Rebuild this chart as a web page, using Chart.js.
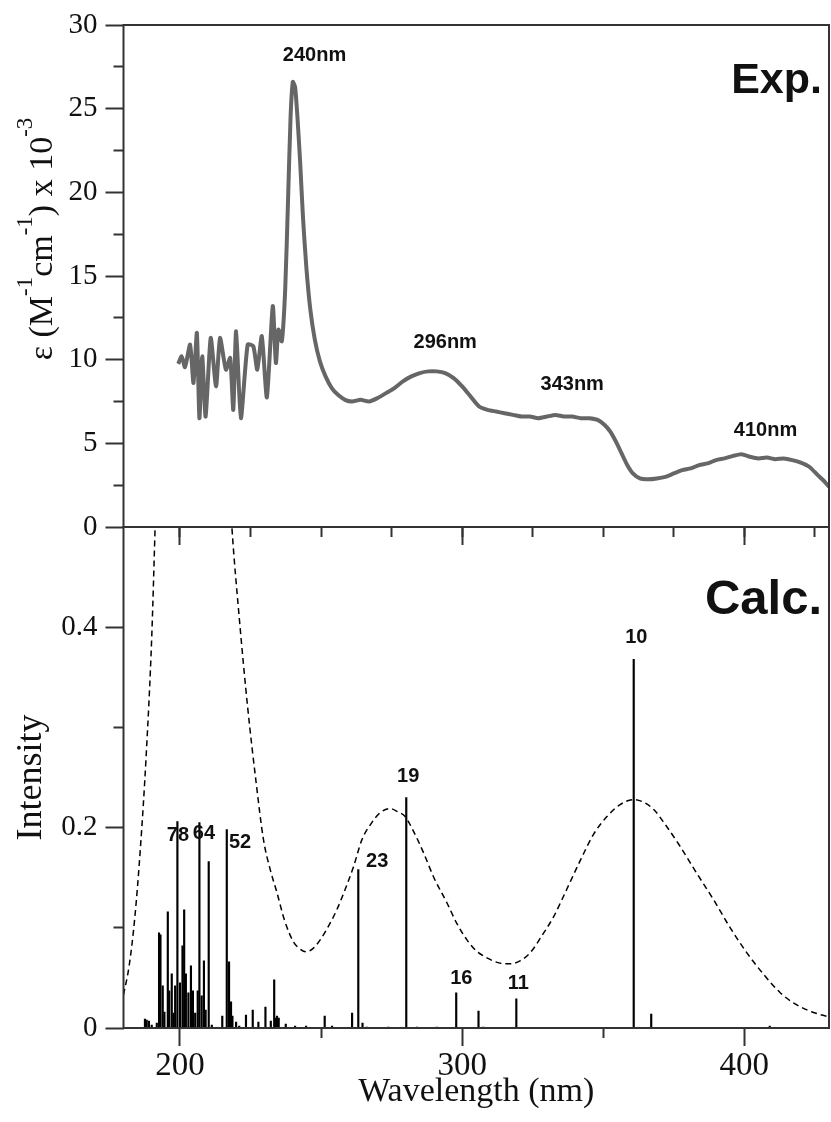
<!DOCTYPE html>
<html lang="en">
<head>
  <meta charset="UTF-8" />
  <title>Exp. / Calc. absorption spectrum</title>
  <script src="https://cdn.jsdelivr.net/npm/chart.js"></script>
  <style>
    body { margin: 0; background: #ffffff; }
    #wrap { position: relative; width: 831px; height: 1122px; }
    #wrap canvas { position: absolute; left: 0; }
    #topChart { top: 0; z-index: 2; }
    #bottomChart { top: 520px; z-index: 1; }
  </style>
</head>
<body>
<div id="wrap">
  <canvas id="topChart" width="831" height="560"></canvas>
  <canvas id="bottomChart" width="831" height="602"></canvas>
</div>

<script>
  const serif = '"Liberation Serif", "Times New Roman", serif';
  const sans = '"Liberation Sans", Arial, sans-serif';

  // experimental spectrum: wavelength (nm) and epsilon x 10^-3
  const expWavelength = [
    199.4, 200.6, 201.8, 203.6, 204.8, 206.0, 206.9, 207.9, 209.1, 210.9,
    212.8, 214.2, 216.3, 217.8, 218.9, 219.9, 221.6, 224.0, 226.0, 227.4,
    229.0, 230.8, 232.9, 234.0, 234.9, 236.1, 237.3, 238.3, 239.2, 240.0,
    240.8, 241.6, 242.6, 243.6, 244.8, 246.2, 247.8, 249.6, 251.6, 253.8,
    256.0, 258.5, 261.0, 264.0, 267.0, 270.0, 273.0, 276.0, 279.0, 282.0,
    285.0, 288.0, 291.0, 294.0, 297.0, 300.0, 303.0, 306.0, 309.0, 312.0,
    315.0, 318.0, 321.0, 324.0, 327.0, 330.0, 333.0, 336.0, 339.0, 342.0,
    345.0, 348.0, 350.5, 352.5, 354.5, 356.5, 358.5, 360.5, 363.0, 366.0,
    369.0, 372.0, 375.0, 378.0, 381.0, 384.0, 387.0, 390.0, 393.0, 396.0,
    399.0, 402.0, 405.0, 408.0, 411.0, 414.0, 417.0, 420.0, 423.0, 426.0,
    428.5, 430.0
  ];
  const expEpsilon = [
    9.75, 10.2, 9.55, 10.9, 8.6, 11.6, 6.5, 10.2, 6.6, 11.3,
    8.4, 11.3, 9.4, 10.1, 7.0, 11.7, 6.5, 10.9, 10.8, 9.4,
    11.4, 7.75, 13.2, 9.8, 11.8, 11.1, 14.2, 19.5, 24.5, 26.6,
    26.3, 24.6, 21.8, 18.5, 15.5, 13.0, 11.2, 9.9, 9.0, 8.3,
    7.9, 7.6, 7.5, 7.6, 7.5, 7.7, 8.0, 8.3, 8.7, 9.0,
    9.2, 9.3, 9.3, 9.2, 8.9, 8.4, 7.8, 7.2, 7.0, 6.9,
    6.8, 6.7, 6.6, 6.6, 6.5, 6.6, 6.7, 6.6, 6.6, 6.5,
    6.5, 6.4, 6.1, 5.7, 5.1, 4.4, 3.7, 3.2, 2.9, 2.85,
    2.9, 3.0, 3.2, 3.4, 3.5, 3.7, 3.8, 4.0, 4.1, 4.25,
    4.35, 4.2, 4.1, 4.15, 4.05, 4.1, 4.0, 3.85, 3.6, 3.1,
    2.7, 2.4
  ];

  // calculated (broadened) spectrum
  const calcWavelength = [
    180, 182, 184, 186, 188, 190, 191.2, 193, 196, 200,
    205, 209, 213, 216, 218.4, 221, 224, 227, 229.6, 232,
    234.3, 237, 240.2, 242.5, 244.6, 247, 249.7, 252.5, 255.6, 258.5,
    261.5, 264.5, 268, 271, 274.5, 277, 279.8, 283, 286.3, 290,
    294.6, 298, 301.7, 305, 308.8, 313, 317, 320.5, 324.1, 328,
    332.4, 337, 342, 346.5, 351.3, 356, 360.8, 364.5, 367.9, 372,
    377.3, 383, 389.1, 395, 400.9, 407, 412.8, 418, 424, 429.4,
    430
  ];
  const calcIntensity = [
    0.033, 0.062, 0.11, 0.18, 0.27, 0.39, 0.5, 0.68, 0.95, 1.2,
    1.25, 1.05, 0.8, 0.62, 0.5, 0.41, 0.32, 0.245, 0.188, 0.158,
    0.136, 0.108, 0.086, 0.079, 0.076, 0.079, 0.088, 0.101, 0.118, 0.138,
    0.161, 0.188, 0.205, 0.215, 0.219, 0.216, 0.211, 0.195, 0.175, 0.15,
    0.125, 0.105, 0.088, 0.077, 0.07, 0.065, 0.064, 0.067, 0.075, 0.091,
    0.111, 0.138, 0.168, 0.193, 0.211, 0.223, 0.228, 0.225, 0.218, 0.203,
    0.181, 0.155, 0.128, 0.1, 0.075, 0.053, 0.035, 0.024, 0.016, 0.0115,
    0.011
  ];

  // calculated transitions (sticks)
  const stickWavelength = [
    187.6, 188.2, 189.0, 190.0, 191.8, 192.6, 193.1, 193.9, 194.5, 195.7,
    196.2, 197.1, 197.7, 198.3, 199.1, 200.0, 200.9, 201.5, 202.1, 203.0,
    203.9, 204.6, 205.4, 206.3, 206.9, 207.7, 208.5, 209.1, 210.2, 211.3,
    215.0, 216.6, 217.4, 218.1, 218.6, 219.9, 221.0, 223.4, 225.8, 227.8,
    230.3, 232.2, 233.4, 233.8, 234.4, 235.0, 237.5, 240.8, 244.7, 251.3,
    253.9, 261.0, 263.2, 264.7, 266.2, 273.9, 280.2, 284.0, 291.0, 297.9,
    305.8, 307.5, 319.2, 360.8, 367.0, 409.0
  ];
  const stickIntensity = [
    0.009, 0.008, 0.007, 0.003, 0.005, 0.095, 0.093, 0.042, 0.016, 0.116,
    0.037, 0.054, 0.015, 0.042, 0.206, 0.045, 0.082, 0.118, 0.054, 0.035,
    0.062, 0.037, 0.015, 0.037, 0.205, 0.032, 0.067, 0.018, 0.166, 0.003,
    0.012, 0.198, 0.066, 0.026, 0.012, 0.006, 0.002, 0.013, 0.018, 0.006,
    0.021, 0.007, 0.048, 0.010, 0.012, 0.010, 0.004, 0.002, 0.002, 0.012,
    0.002, 0.015, 0.158, 0.005, 0.001, 0.001, 0.23, 0.001, 0.001, 0.035,
    0.017, 0.001, 0.029, 0.368, 0.014, 0.002
  ];

  // annotations
  const peakNames = ['240nm', '296nm', '343nm', '410nm'];
  const stateNames = ['78', '64', '52', '23', '19', '16', '11', '10'];

  // axis ticks
  const wlMajorTicks = [200, 300, 400];
  const wlMinorTicks = [250, 350];
  const wlInnerTicks = [200, 225, 250, 275, 300, 325, 350, 375, 400, 425];
  const epsMajorTicks = [0, 5, 10, 15, 20, 25, 30];
  const epsMinorTicks = [2.5, 7.5, 12.5, 17.5, 22.5, 27.5];
  const intMajorTicks = [0, 0.2, 0.4];
  const intMinorTicks = [0.1, 0.3];

  // label anchors in data units (kept apart from the data)
  const peakAt = [[247.7, 28.2], [294, 11.0], [339, 8.5], [407.5, 5.75]];
  const stateAt = [[199.3, 0.192], [208.5, 0.194], [221.3, 0.185], [269.9, 0.166],
                   [280.9, 0.251], [299.7, 0.049], [319.9, 0.044], [361.7, 0.39]];

  const axisColor = '#333';

  function onlyTicks(list) {
    return s => { s.ticks = list.map(v => ({ value: v })); };
  }

  // an axis that only draws tick marks (width / height 0)
  function markAxis(pos, min, max, list, len, weight) {
    return {
      type: 'linear', position: pos, min: min, max: max, weight: weight, offset: false,
      afterBuildTicks: onlyTicks(list),
      afterFit: s => { if (pos === 'left') s.width = 0; else s.height = 0; },
      ticks: { display: false, autoSkip: false },
      grid: { drawOnChartArea: false, tickLength: len, tickWidth: 2, tickColor: axisColor },
      border: { display: false }
    };
  }

  // labelled y axis; no extra room for the end labels so the panels stay exact
  function valueAxis(min, max, list, title) {
    return {
      type: 'linear', position: 'left', min: min, max: max, weight: 1,
      afterBuildTicks: onlyTicks(list),
      afterFit: s => { s.width = 123.5; s.paddingTop = 0; s.paddingBottom = 0; },
      ticks: { font: { family: serif, size: 29 }, color: '#111', padding: 8, autoSkip: false },
      grid: { drawOnChartArea: false, tickLength: 18, tickWidth: 2, tickColor: axisColor },
      border: { display: false },
      title: title
    };
  }

  const frame = {
    id: 'frame',
    afterDraw(chart) {
      const { ctx, chartArea: a } = chart;
      ctx.save();
      ctx.strokeStyle = axisColor;
      ctx.lineWidth = 2;
      ctx.strokeRect(a.left, a.top, a.right - a.left, a.bottom - a.top);
      ctx.restore();
    }
  };

  function textPlugin(id, names, anchors, extra) {
    return {
      id: id,
      afterDatasetsDraw(chart) {
        const ctx = chart.ctx;
        const xs = chart.scales.x, ys = chart.scales.y;
        ctx.save();
        ctx.fillStyle = '#111';
        ctx.font = 'bold 20px ' + sans;
        ctx.textAlign = 'center';
        ctx.textBaseline = 'middle';
        names.forEach((t, i) => {
          ctx.fillText(t, xs.getPixelForValue(anchors[i][0]), ys.getPixelForValue(anchors[i][1]));
        });
        ctx.font = extra.font;
        ctx.textAlign = 'right';
        ctx.textBaseline = 'alphabetic';
        ctx.fillText(extra.text, chart.chartArea.right - 7, chart.chartArea.top + extra.dy);
        ctx.restore();
      }
    };
  }

  // y title with superscripts
  const epsTitle = {
    id: 'epsTitle',
    afterDraw(chart) {
      const ctx = chart.ctx;
      const parts = [['\u03b5 (M', 0], ['-1', 1], ['cm', 0], ['-1', 1], [') x 10', 0], ['-3', 1]];
      const big = '34px ' + serif, small = '23px ' + serif;
      ctx.save();
      let total = 0;
      parts.forEach(p => { ctx.font = p[1] ? small : big; total += ctx.measureText(p[0]).width; });
      ctx.translate(52, 239);
      ctx.rotate(-Math.PI / 2);
      ctx.fillStyle = '#111';
      ctx.textBaseline = 'alphabetic';
      let x = -total / 2;
      parts.forEach(p => {
        ctx.font = p[1] ? small : big;
        ctx.fillText(p[0], x, p[1] ? -20 : 0);
        x += ctx.measureText(p[0]).width;
      });
      ctx.restore();
    }
  };

  // ---------- top panel: experiment ----------
  new Chart(document.getElementById('topChart'), {
    type: 'line',
    data: {
      datasets: [{
        data: expWavelength.map((w, i) => ({ x: w, y: expEpsilon[i] })),
        borderColor: '#666666',
        borderWidth: 4,
        pointRadius: 0,
        tension: 0.2
      }]
    },
    options: {
      responsive: false,
      animation: false,
      layout: { padding: { top: 25, right: 2, bottom: 33, left: 0 } },
      plugins: { legend: { display: false }, tooltip: { enabled: false } },
      scales: {
        x: markAxis('bottom', 180, 430, wlInnerTicks, 10, 0),
        x2: markAxis('bottom', 180, 430, wlMajorTicks, 18, 1),
        y: valueAxis(0, 30, epsMajorTicks, { display: false }),
        y2: markAxis('left', 0, 30, epsMinorTicks, 10, 0)
      }
    },
    plugins: [frame, epsTitle,
      textPlugin('expText', peakNames, peakAt, { text: 'Exp.', font: 'bold 43px ' + sans, dy: 68 })]
  });

  // ---------- bottom panel: calculation ----------
  new Chart(document.getElementById('bottomChart'), {
    type: 'line',
    data: {
      datasets: [{
        type: 'line',
        data: calcWavelength.map((w, i) => ({ x: w, y: calcIntensity[i] })),
        borderColor: '#000000',
        borderWidth: 1.5,
        borderDash: [6, 4],
        pointRadius: 0,
        cubicInterpolationMode: 'monotone',
        order: 1
      }, {
        type: 'bar',
        data: stickWavelength.map((w, i) => ({ x: w, y: stickIntensity[i] })),
        backgroundColor: '#000000',
        borderWidth: 0,
        barThickness: 1.5,
        order: 2
      }]
    },
    options: {
      responsive: false,
      animation: false,
      layout: { padding: { top: 7, right: 2, bottom: 0, left: 0 } },
      plugins: { legend: { display: false }, tooltip: { enabled: false } },
      scales: {
        x: {
          type: 'linear', position: 'bottom', min: 180, max: 430, weight: 1, offset: false,
          afterBuildTicks: onlyTicks(wlMajorTicks),
          afterFit: s => { s.height = 94; },
          ticks: { font: { family: serif, size: 33 }, color: '#111', padding: 1, autoSkip: false, maxRotation: 0 },
          grid: { drawOnChartArea: false, tickLength: 18, tickWidth: 2, tickColor: axisColor, offset: false },
          border: { display: false },
          title: { display: true, text: 'Wavelength (nm)', font: { family: serif, size: 34 }, color: '#111',
                   padding: { top: 0, bottom: 10 } }
        },
        x2: markAxis('bottom', 180, 430, wlMinorTicks, 10, 0),
        y: valueAxis(0, 0.5, intMajorTicks, {
          display: true, text: 'Intensity', font: { family: serif, size: 36 }, color: '#111',
          padding: { top: 10, bottom: 0 }
        }),
        y2: markAxis('left', 0, 0.5, intMinorTicks, 10, 0)
      }
    },
    plugins: [frame,
      textPlugin('calcText', stateNames, stateAt, { text: 'Calc.', font: 'bold 49px ' + sans, dy: 87 })]
  });
</script>
</body>
</html>
